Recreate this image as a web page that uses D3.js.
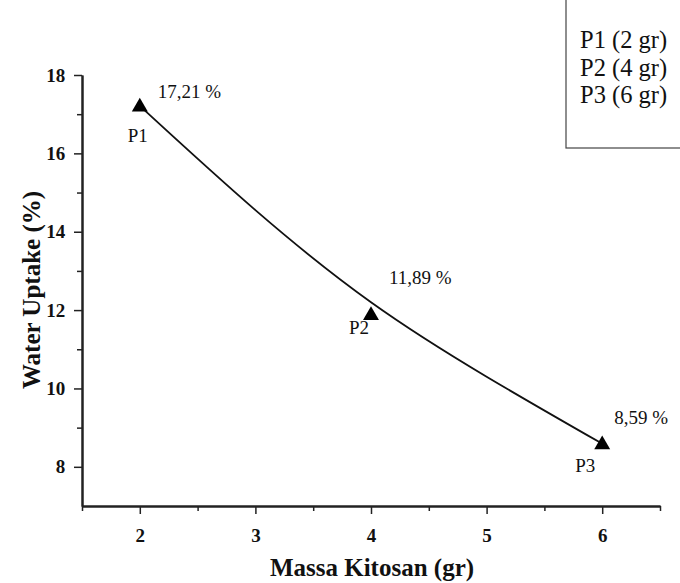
<!DOCTYPE html>
<html>
<head>
<meta charset="utf-8">
<script src="https://cdn.jsdelivr.net/npm/d3@7"></script>
<style>
  body { margin: 0; background: #fff; }
</style>
</head>
<body>
<div id="chart"></div>
<script>
// measured points
var massa = [2, 4, 6];
var uptake = [17.21, 11.89, 8.59];
var pointNames = ["P1", "P2", "P3"];
var valueLabels = ["17,21 %", "11,89 %", "8,59 %"];
var legendLabels = ["P1 (2 gr)", "P2 (4 gr)", "P3 (6 gr)"];

// fitted curve
var fitX = [2, 3, 4, 5, 6];
var fitY = [17.21, 14.55, 12.2, 10.3, 8.59];

var xTicks = [2, 3, 4, 5, 6];
var yTicks = [8, 10, 12, 14, 16, 18];

// label nudges (px)
var nameDx = [-2, -12, -17], nameDy = [36, 20, 28];
var valDx = [18, 18, 12], valDy = [-8, -30, -20];

var FONT = "Liberation Serif";
var W = 680, H = 583;

var svg = d3.select("#chart").append("svg").attr("width", W).attr("height", H);

var x = d3.scaleLinear().domain([1.5, 6.5]).range([82, 660]);
var y = d3.scaleLinear().domain([7, 18]).range([506, 75]);

// axes
var xAxis = svg.append("g").attr("transform", "translate(0,506)")
  .call(d3.axisBottom(x).tickValues(xTicks).tickFormat(d3.format("d")).tickSize(8).tickSizeOuter(0));
svg.append("g").attr("transform", "translate(0,506)")
  .call(d3.axisBottom(x).tickValues([1.5, 2.5, 3.5, 4.5, 5.5, 6.5]).tickFormat("").tickSize(5).tickSizeOuter(0));
var yAxis = svg.append("g").attr("transform", "translate(82,0)")
  .call(d3.axisLeft(y).tickValues(yTicks).tickFormat(d3.format("d")).tickSize(8).tickSizeOuter(0));
svg.append("g").attr("transform", "translate(82,0)")
  .call(d3.axisLeft(y).tickValues([9, 11, 13, 15, 17]).tickFormat("").tickSize(5).tickSizeOuter(0));

svg.selectAll(".domain").attr("stroke", "#222").attr("stroke-width", 2);
svg.selectAll(".tick line").attr("stroke", "#222").attr("stroke-width", 1.5);
xAxis.selectAll("text").attr("font-family", FONT).attr("font-size", 19).attr("font-weight", "bold")
  .attr("fill", "#111").attr("dy", "1.3em");
yAxis.selectAll("text").attr("font-family", FONT).attr("font-size", 19).attr("font-weight", "bold")
  .attr("fill", "#111").attr("dx", "-0.3em");

// axis titles
svg.append("text").attr("x", 372).attr("y", 576).attr("text-anchor", "middle")
  .attr("font-family", FONT).attr("font-size", 25).attr("font-weight", "bold").attr("fill", "#111")
  .text("Massa Kitosan (gr)");
svg.append("text").attr("transform", "translate(40,290) rotate(-90)").attr("text-anchor", "middle")
  .attr("font-family", FONT).attr("font-size", 25).attr("font-weight", "bold").attr("fill", "#111")
  .text("Water Uptake (%)");

// fit line
var fit = fitX.map(function(d, i) { return [d, fitY[i]]; });
svg.append("path").datum(fit)
  .attr("d", d3.line().x(function(d) { return x(d[0]); }).y(function(d) { return y(d[1]); }).curve(d3.curveNatural))
  .attr("fill", "none").attr("stroke", "#111").attr("stroke-width", 1.8);

// points
var pts = massa.map(function(d, i) { return {x: d, y: uptake[i], name: pointNames[i], label: valueLabels[i], i: i}; });
svg.selectAll(".pt").data(pts).enter().append("path")
  .attr("transform", function(d) { return "translate(" + x(d.x) + "," + (y(d.y) + 1) + ")"; })
  .attr("d", d3.symbol().type(d3.symbolTriangle).size(110)).attr("fill", "#000");

svg.selectAll(".vl").data(pts).enter().append("text")
  .attr("x", function(d) { return x(d.x) + valDx[d.i]; }).attr("y", function(d) { return y(d.y) + valDy[d.i]; })
  .attr("font-family", FONT).attr("font-size", 19).attr("fill", "#111").text(function(d) { return d.label; });
svg.selectAll(".nm").data(pts).enter().append("text")
  .attr("x", function(d) { return x(d.x) + nameDx[d.i]; }).attr("y", function(d) { return y(d.y) + nameDy[d.i]; })
  .attr("text-anchor", "middle").attr("font-family", FONT).attr("font-size", 19).attr("fill", "#111")
  .text(function(d) { return d.name; });

// legend box
svg.append("rect").attr("x", 566).attr("y", -2).attr("width", 130).attr("height", 150)
  .attr("fill", "none").attr("stroke", "#444").attr("stroke-width", 1.2);
svg.selectAll(".lg").data(legendLabels).enter().append("text")
  .attr("x", 580).attr("y", function(d, i) { return 48 + i * 27.5; })
  .attr("font-family", FONT).attr("font-size", 24.5).attr("fill", "#111").text(function(d) { return d; });
</script>
</body>
</html>
